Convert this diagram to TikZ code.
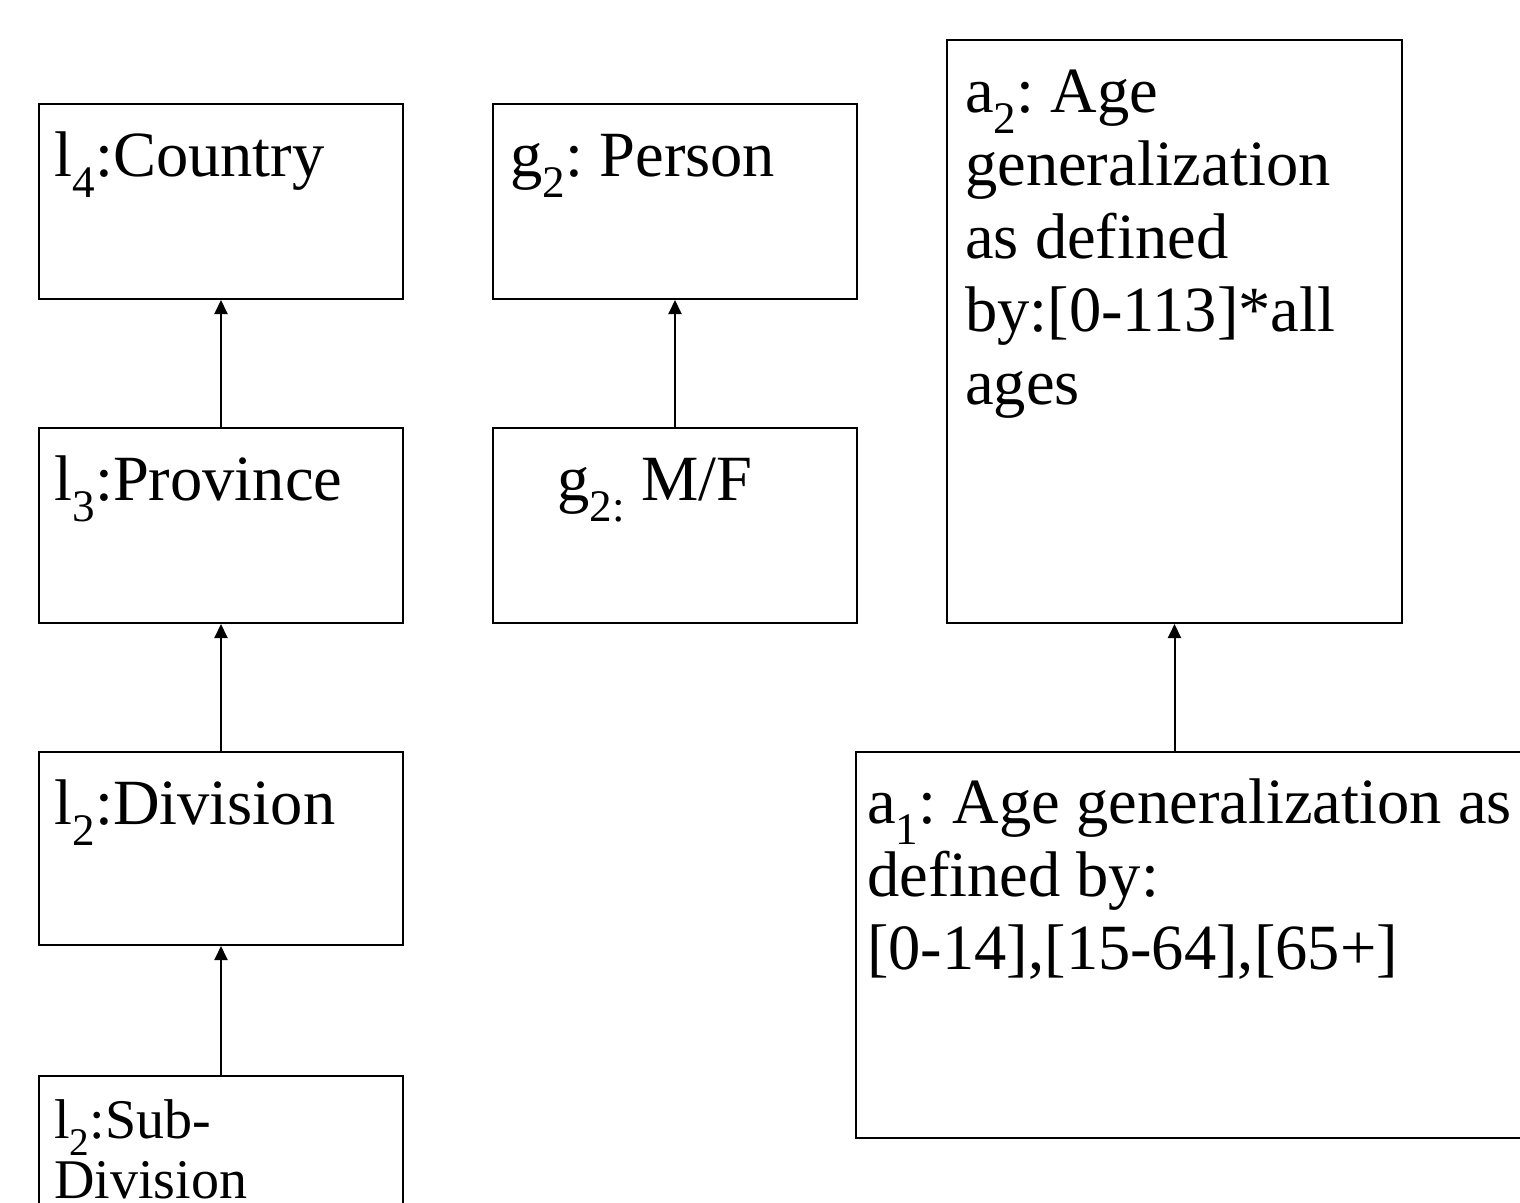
\documentclass[tikz,border=0pt]{standalone}
\usepackage{fontspec}
\setmainfont{Liberation Serif}
\usetikzlibrary{arrows.meta}
\frenchspacing
\newcommand{\bigtxt}{\fontsize{64.5}{73}\selectfont}
\newcommand{\smalltxt}{\fontsize{56}{60}\selectfont}
\tikzset{
  x=1pt, y=-1pt,
  box/.style={draw, line width=2pt, rectangle, inner sep=0pt, anchor=north west},
  lbl/.style={anchor=base west, inner sep=0pt, font=\bigtxt},
  arr/.style={line width=2pt, -{Triangle[length=14pt,width=13pt]}},
}
\begin{document}
\begin{tikzpicture}
\useasboundingbox[fill=white] (0,0) rectangle (1520,1202);
% boxes
\node[box, minimum width=364pt, minimum height=195pt] (l4) at (38,103) {};
\node[box, minimum width=364pt, minimum height=195pt] (l3) at (38,427) {};
\node[box, minimum width=364pt, minimum height=193pt] (l2) at (38,751) {};
\node[box, minimum width=364pt, minimum height=200pt] (l1) at (38,1075) {};
\node[box, minimum width=364pt, minimum height=195pt] (gp) at (492,103) {};
\node[box, minimum width=364pt, minimum height=195pt] (gm) at (492,427) {};
\node[box, minimum width=455pt, minimum height=583pt] (a2) at (946,39) {};
\node[box, minimum width=720pt, minimum height=386pt] (a1) at (855,751) {};
% texts
\node[lbl] (tl4) at (54,176) {l\textsubscript{4}:Country};
\node[lbl] (tl3) at (54,500) {l\textsubscript{3}:Province};
\node[lbl] (tl2) at (54,824) {l\textsubscript{2}:Division};
\node[lbl, font=\smalltxt] (tl1) at (54,1138) {\parbox[t]{340pt}{l\textsubscript{2}:Sub-\\Division}};
\node[lbl] (tgp) at (510,176) {g\textsubscript{2}: Person};
\node[lbl] (tgm) at (557,500) {g\textsubscript{2:} M/F};
\node[lbl] (ta2) at (965,112) {\parbox[t]{430pt}{a\textsubscript{2}: Age\\generalization\\as defined\\by:[0-113]*all\\ages}};
\node[lbl] (ta1) at (867,823) {\parbox[t]{660pt}{a\textsubscript{1}: Age generalization as\\defined by:\\{}[0-14],[15-64],[65+]}};
% connectors
\draw[arr] (l3.north) -- (l4.south);
\draw[arr] (l2.north) -- (l3.south);
\draw[arr] (l1.north) -- (l2.south);
\draw[arr] (gm.north) -- (gp.south);
\draw[arr] (a2.south |- a1.north) -- (a2.south);
\end{tikzpicture}
\end{document}
